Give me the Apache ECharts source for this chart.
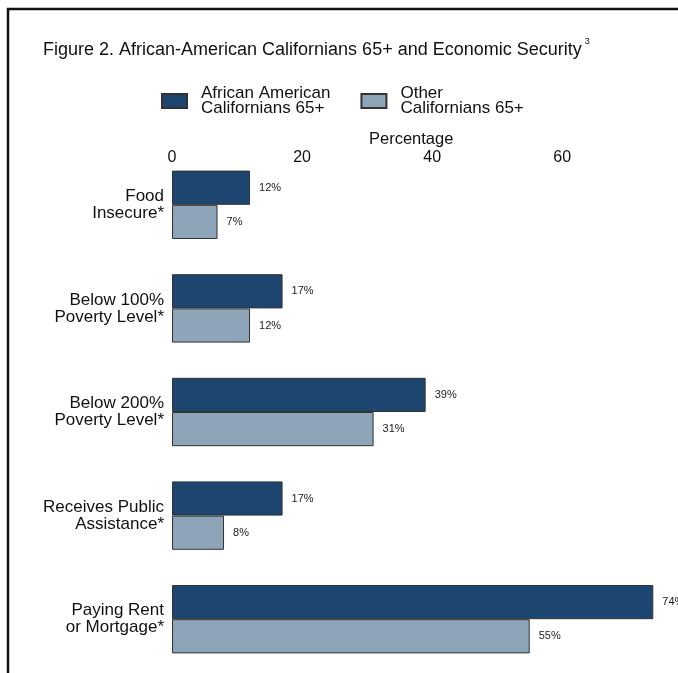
<!DOCTYPE html>
<html>
<head>
<meta charset="utf-8">
<script src="https://cdn.jsdelivr.net/npm/echarts@6/dist/echarts.min.js"></script>
<style>
  html, body { margin: 0; padding: 0; background: #fff; }
  #chart { width: 678px; height: 673px; }
</style>
</head>
<body>
<div id="chart"></div>
<script>
  // categories, top to bottom
  var categories = ['Food\nInsecure*', 'Below 100%\nPoverty Level*', 'Below 200%\nPoverty Level*', 'Receives Public\nAssistance*', 'Paying Rent\nor Mortgage*'];
  var seriesNames = ['African American\nCalifornians 65+', 'Other\nCalifornians 65+'];
  var africanAmerican = [12, 17, 39, 17, 74];
  var otherCalifornians = [7, 12, 31, 8, 55];
  var tickLabels = [0, 20, 40, 60];

  var font = '"Liberation Sans", Arial, sans-serif';
  var chart = echarts.init(document.getElementById('chart'));

  function barSeries(name, data, color) {
    return {
      name: name,
      type: 'bar',
      data: data,
      barGap: '0%',
      barCategoryGap: '34%',
      itemStyle: { color: color, borderColor: '#333', borderWidth: 1 },
      label: {
        show: true,
        position: 'right',
        distance: 9,
        formatter: '{c}%',
        color: '#222',
        fontSize: 11,
        fontFamily: font
      }
    };
  }

  var option = {
    backgroundColor: '#fff',
    animation: false,
    title: [{
      text: 'Figure 2. African-American Californians 65+ and Economic Security{sup|3}',
      left: 38,
      top: 32,
      textStyle: {
        color: '#111',
        fontSize: 18,
        fontWeight: 'normal',
        fontFamily: font,
        rich: { sup: { fontSize: 9, verticalAlign: 'top', padding: [0, 0, 17, 3], color: '#111', fontFamily: font } }
      }
    }, {
      text: 'Percentage',
      left: 364,
      top: 126,
      textStyle: { color: '#111', fontSize: 16.5, fontWeight: 'normal', fontFamily: font }
    }],
    legend: {
      left: 156,
      top: 80,
      itemWidth: 25,
      itemHeight: 14,
      itemGap: 30,
      icon: 'rect',
      textStyle: { color: '#111', fontSize: 17, fontFamily: font, lineHeight: 15, padding: [0, 0, 0, 9] },
      data: seriesNames
    },
    graphic: [{
      type: 'rect',
      shape: { x: 8, y: 9, width: 700, height: 700 },
      style: { fill: null, stroke: '#111', lineWidth: 2.5 },
      silent: true
    }],
    grid: { left: 172, right: 0, top: 153, bottom: 2, containLabel: false },
    xAxis: {
      type: 'value',
      position: 'top',
      min: 0,
      max: 77.8,
      interval: 20,
      splitLine: { show: false },
      axisLine: { show: false },
      axisTick: { show: false },
      axisLabel: {
        margin: -13,
        color: '#111',
        fontSize: 16,
        fontFamily: font,
        showMaxLabel: false,
        formatter: function (v) { return tickLabels.indexOf(v) >= 0 ? String(v) : ''; }
      }
    },
    yAxis: {
      type: 'category',
      inverse: true,
      data: categories,
      axisLine: { show: false },
      axisTick: { show: false },
      axisLabel: {
        margin: 8,
        color: '#111',
        fontSize: 17,
        fontFamily: font,
        lineHeight: 17,
        align: 'right'
      }
    },
    series: [
      barSeries(seriesNames[0], africanAmerican, '#1c466f'),
      barSeries(seriesNames[1], otherCalifornians, '#8ea4b9')
    ]
  };

  chart.setOption(option);
</script>
</body>
</html>
